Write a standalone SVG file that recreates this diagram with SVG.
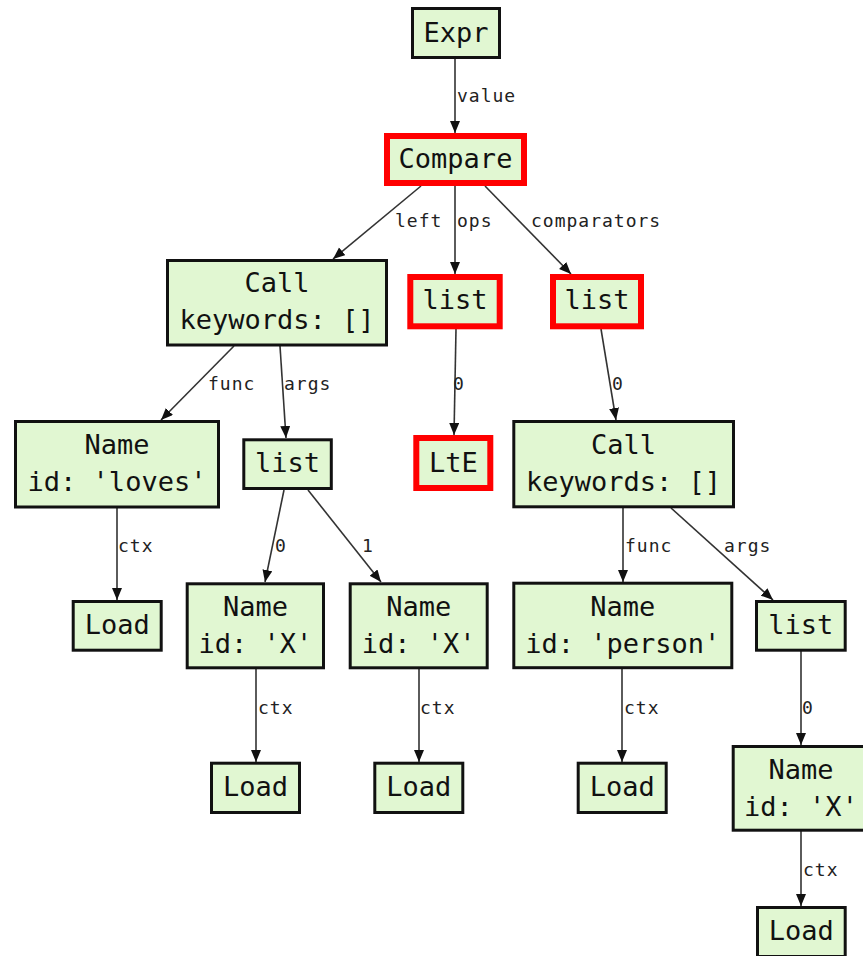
<svg xmlns="http://www.w3.org/2000/svg" width="863" height="956" viewBox="0 0 863 956">
  <style>
    .node rect { fill: #e1f7d2; stroke: #111; stroke-width: 3; }
    .node.hl rect { stroke: #ff0000; stroke-width: 6; }
    .node text { font-family: "DejaVu Sans Mono", "Liberation Mono", monospace; font-size: 27px; fill: #111; text-anchor: middle; }
    .edges line { stroke: #333; stroke-width: 1.6; marker-end: url(#arrow); }
    .edges text { font-family: "DejaVu Sans Mono", "Liberation Mono", monospace; font-size: 18px; letter-spacing: 1px; fill: #222; }
  </style>
  <defs>
    <marker id="arrow" markerUnits="userSpaceOnUse" markerWidth="13" markerHeight="11" refX="12" refY="5" orient="auto">
      <path d="M0,0 L12,5 L0,10 z" fill="#111"/>
    </marker>
  </defs>
  <rect width="863" height="956" fill="#ffffff"/>

  <g id="edges" class="edges">
    <line x1="455" y1="59" x2="455" y2="133"/>
    <text x="457" y="102">value</text>
    <line x1="421" y1="186" x2="333" y2="259"/>
    <text x="395" y="227">left</text>
    <line x1="455" y1="186" x2="455" y2="274"/>
    <text x="457" y="227">ops</text>
    <line x1="485" y1="186" x2="571" y2="274"/>
    <text x="531" y="227">comparators</text>
    <line x1="234" y1="346" x2="161" y2="420"/>
    <text x="208" y="390">func</text>
    <line x1="280" y1="346" x2="286" y2="438"/>
    <text x="284" y="390">args</text>
    <line x1="456" y1="329" x2="454" y2="435"/>
    <text x="453" y="390">0</text>
    <line x1="601" y1="329" x2="616" y2="420"/>
    <text x="612" y="390">0</text>
    <line x1="117" y1="508" x2="117" y2="600"/>
    <text x="118" y="552">ctx</text>
    <line x1="284" y1="490" x2="265" y2="582"/>
    <text x="275" y="552">0</text>
    <line x1="308" y1="490" x2="381" y2="582"/>
    <text x="362" y="552">1</text>
    <line x1="623" y1="508" x2="623" y2="582"/>
    <text x="625" y="552">func</text>
    <line x1="671" y1="508" x2="773" y2="600"/>
    <text x="724" y="552">args</text>
    <line x1="256" y1="669" x2="256" y2="762"/>
    <text x="258" y="714">ctx</text>
    <line x1="419" y1="669" x2="419" y2="762"/>
    <text x="420" y="714">ctx</text>
    <line x1="622" y1="669" x2="622" y2="762"/>
    <text x="624" y="714">ctx</text>
    <line x1="801" y1="651" x2="801" y2="745"/>
    <text x="802" y="714">0</text>
    <line x1="801" y1="831" x2="801" y2="906"/>
    <text x="803" y="876">ctx</text>
  </g>

  <g id="expr" class="node">
    <rect x="412.5" y="8.5" width="87" height="49"/>
    <text x="456" y="42">Expr</text>
  </g>
  <g id="compare" class="node hl">
    <rect x="387" y="136" width="137" height="47"/>
    <text x="455.5" y="168">Compare</text>
  </g>
  <g id="call-left" class="node">
    <rect x="167.5" y="260.5" width="219" height="84.5"/>
    <text x="277" y="292">Call</text>
    <text x="277" y="329">keywords: []</text>
  </g>
  <g id="list-ops" class="node hl">
    <rect x="410.3" y="277" width="89.4" height="49.3"/>
    <text x="455" y="309">list</text>
  </g>
  <g id="list-comparators" class="node hl">
    <rect x="553" y="277" width="88" height="49.3"/>
    <text x="597" y="309">list</text>
  </g>
  <g id="name-loves" class="node">
    <rect x="15.5" y="421.5" width="203" height="85.5"/>
    <text x="117" y="454">Name</text>
    <text x="117" y="491">id: 'loves'</text>
  </g>
  <g id="list-args-left" class="node">
    <rect x="243.8" y="439.8" width="87.5" height="48.7"/>
    <text x="287.5" y="472">list</text>
  </g>
  <g id="lte" class="node hl">
    <rect x="416.3" y="438" width="74" height="50"/>
    <text x="453.3" y="472">LtE</text>
  </g>
  <g id="call-right" class="node">
    <rect x="513.8" y="421.5" width="219.7" height="85.3"/>
    <text x="623.6" y="454">Call</text>
    <text x="623.6" y="491">keywords: []</text>
  </g>
  <g id="load-loves" class="node">
    <rect x="73.2" y="601.5" width="88" height="48.7"/>
    <text x="117.2" y="634">Load</text>
  </g>
  <g id="name-x1" class="node">
    <rect x="187.2" y="583.8" width="136.3" height="84"/>
    <text x="255.4" y="616">Name</text>
    <text x="255.4" y="653">id: 'X'</text>
  </g>
  <g id="name-x2" class="node">
    <rect x="350.2" y="583.8" width="137" height="84"/>
    <text x="418.7" y="616">Name</text>
    <text x="418.7" y="653">id: 'X'</text>
  </g>
  <g id="name-person" class="node">
    <rect x="513.8" y="583.2" width="218" height="84.5"/>
    <text x="622.8" y="616">Name</text>
    <text x="622.8" y="653">id: 'person'</text>
  </g>
  <g id="list-args-right" class="node">
    <rect x="756.5" y="601.5" width="88.7" height="48.7"/>
    <text x="800.8" y="634">list</text>
  </g>
  <g id="load-x1" class="node">
    <rect x="211.5" y="763.2" width="88" height="49.3"/>
    <text x="255.5" y="796">Load</text>
  </g>
  <g id="load-x2" class="node">
    <rect x="374.8" y="763.2" width="88" height="49.3"/>
    <text x="418.8" y="796">Load</text>
  </g>
  <g id="load-person" class="node">
    <rect x="578.2" y="763.2" width="88" height="49.3"/>
    <text x="622.2" y="796">Load</text>
  </g>
  <g id="name-x3" class="node">
    <rect x="733.2" y="746.5" width="135.6" height="83.7"/>
    <text x="801" y="779">Name</text>
    <text x="801" y="816">id: 'X'</text>
  </g>
  <g id="load-x3" class="node">
    <rect x="757.5" y="907.5" width="87.7" height="49"/>
    <text x="801.3" y="940">Load</text>
  </g>
</svg>
